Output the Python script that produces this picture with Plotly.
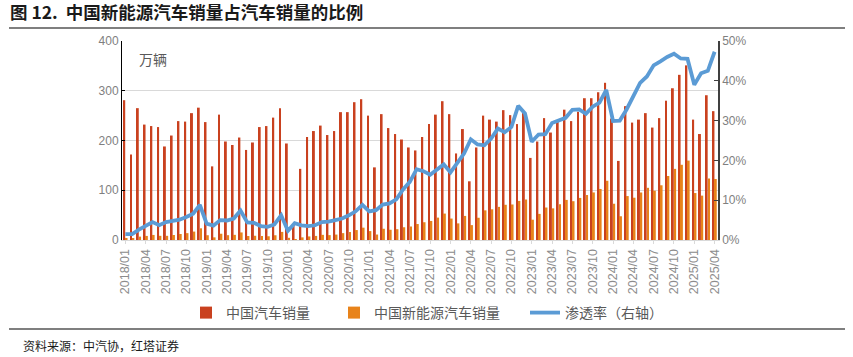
import plotly.graph_objects as go

months = [f"{y}/{m:02d}" for y in range(2018, 2026) for m in range(1, 13)][:88]

total_sales = [
    281, 172, 265, 232, 229, 227, 188, 210, 239, 238, 255, 266,
    237, 148, 252, 198, 191, 206, 181, 196, 227, 229, 246, 265,
    194, 31, 143, 207, 219, 230, 211, 219, 257, 257, 277, 283,
    250, 146, 253, 225, 213, 202, 186, 180, 207, 233, 252, 279,
    253, 174, 223, 118, 186, 250, 242, 238, 261, 251, 233, 256,
    165, 198, 245, 216, 238, 262, 239, 258, 285, 285, 297, 316,
    244, 159, 269, 236, 242, 255, 226, 245, 280, 305, 332, 351,
    242, 213, 291, 259,
]

nev_sales = [
    4.1, 2.5, 6.8, 8.2, 10.2, 8.4, 8.4, 10.1, 12.1, 13.8, 16.9, 23.5,
    9.6, 5.3, 12.6, 9.7, 10.4, 15.2, 8.0, 8.5, 8.0, 7.5, 9.5, 16.3,
    4.4, 1.3, 5.3, 7.2, 8.2, 10.4, 9.8, 10.9, 13.8, 16.0, 20.0, 24.8,
    17.9, 11.0, 22.6, 20.6, 21.7, 25.6, 27.1, 32.1, 35.7, 38.3, 45.0, 53.1,
    43.1, 33.4, 48.4, 29.9, 44.7, 59.6, 61.7, 66.6, 70.8, 71.4, 78.6, 81.4,
    40.8, 52.5, 65.3, 63.6, 71.7, 80.6, 78.0, 84.6, 90.4, 95.6, 102.6, 119.1,
    72.9, 47.7, 88.3, 85.0, 95.5, 104.9, 99.1, 110.0, 128.7, 143.0, 151.2, 159.6,
    94.4, 89.2, 123.7, 122.6,
]

penetration_pct = [
    1.5, 1.5, 2.6, 3.5, 4.5, 3.7, 4.5, 4.8, 5.1, 5.8, 6.6, 8.8,
    4.1, 3.6, 5.0, 4.9, 5.4, 7.4, 4.4, 4.3, 3.5, 3.3, 3.9, 6.2,
    2.3, 4.2, 3.7, 3.5, 3.7, 4.5, 4.6, 5.0, 5.4, 6.2, 7.2, 8.8,
    7.2, 7.5, 8.9, 9.2, 10.2, 12.7, 14.6, 17.8, 17.3, 16.4, 17.8, 19.0,
    17.0, 19.2, 21.7, 25.3, 24.0, 23.8, 25.5, 28.0, 27.1, 28.4, 33.7, 31.8,
    24.7, 26.5, 26.6, 29.4, 30.1, 30.7, 32.7, 32.8, 31.7, 33.5, 34.5, 37.7,
    29.9, 30.0, 32.8, 36.0, 39.5, 41.1, 43.9, 44.9, 46.0, 46.8, 45.6, 45.5,
    39.0, 41.9, 42.5, 47.3,
]

tick_labels = months[::3]

RED = "#C9411F"
ORANGE = "#E8831A"
BLUE = "#5B9BD5"
CJK = "Noto Sans CJK SC"

W, H = 853, 357
PL, PT, PW, PH = 122, 41, 596, 199  # plot area in pixels


def px(x):
    return (x - PL) / PW


def py(y):
    return (PT + PH - y) / PH


fig = go.Figure()
fig.add_trace(go.Bar(
    x=months, y=total_sales, name="中国汽车销量", legend="legend",
    marker=dict(color=RED, line=dict(width=0)),
))
fig.add_trace(go.Bar(
    x=months, y=nev_sales, name="中国新能源汽车销量", legend="legend2",
    marker=dict(color=ORANGE, line=dict(width=0)),
))
fig.add_trace(go.Scatter(
    x=months, y=[p / 100 for p in penetration_pct], name="渗透率（右轴）",
    legend="legend3",
    mode="lines", line=dict(color=BLUE, width=3.8), yaxis="y2",
))

legend_common = dict(
    orientation="h", xanchor="left", yanchor="middle", y=py(313),
    font=dict(family=CJK, size=14, color="#595959"),
    itemwidth=30, bgcolor="rgba(0,0,0,0)",
)

fig.update_layout(
    width=W, height=H,
    margin=dict(l=PL, r=W - (PL + PW), t=PT, b=H - (PT + PH), autoexpand=False),
    paper_bgcolor="white", plot_bgcolor="white",
    barmode="group", bargap=0.32, bargroupgap=0.15,
    font=dict(family=CJK, color="#595959", size=11),
    showlegend=True,
    legend=dict(x=px(186), **legend_common),
    legend2=dict(x=px(334), **legend_common),
    legend3=dict(x=px(525), **legend_common),
    xaxis=dict(
        type="category", range=[-0.5, 87.5],
        tickmode="array", tickvals=tick_labels, ticktext=tick_labels,
        tickangle=-90, tickfont=dict(family="Liberation Sans", size=12.5, color="#8C8C8C"),
        showgrid=False, showline=True, linecolor="#D9D9D9", linewidth=1,
        ticks="outside", ticklen=3, tickcolor="#D9D9D9",
        zeroline=False,
    ),
    yaxis=dict(
        range=[0, 400], dtick=100, showgrid=True, gridcolor="#D9D9D9", gridwidth=1,
        showline=True, linecolor="#000000", linewidth=1,
        ticks="inside", ticklen=3, tickcolor="#000000",
        tickfont=dict(family="Liberation Sans", size=12, color="#7F7F7F"),
        zeroline=False,
    ),
    yaxis2=dict(
        range=[0, 0.5], dtick=0.1, tickformat=".0%", overlaying="y", side="right",
        showgrid=False, showline=True, linecolor="#404040", linewidth=1.5,
        ticks="inside", ticklen=4, tickcolor="#404040",
        tickfont=dict(family="Liberation Sans", size=12, color="#7F7F7F"),
        zeroline=False,
    ),
)

fig.add_annotation(
    text="<b>图 12.  中国新能源汽车销量占汽车销量的比例</b>",
    xref="paper", yref="paper", x=px(8), y=py(12),
    xanchor="left", yanchor="middle", showarrow=False,
    font=dict(family=CJK, size=17.5, color="#1A1A1A"),
)
fig.add_annotation(
    text="万辆", xref="paper", yref="paper",
    x=px(137), y=py(59), xanchor="left", yanchor="middle",
    showarrow=False, font=dict(family=CJK, size=14, color="#595959"),
)
fig.add_annotation(
    text="资料来源：中汽协，红塔证券", xref="paper", yref="paper",
    x=px(21), y=py(345), xanchor="left", yanchor="middle",
    showarrow=False, font=dict(family=CJK, size=12, color="#1A1A1A"),
)
for yy in (28, 329):
    fig.add_shape(type="line", xref="paper", yref="paper",
                  x0=px(9), x1=px(845), y0=py(yy), y1=py(yy),
                  line=dict(color="#000000", width=1.2))

fig.write_html(
    "out.html",
    config={"displayModeBar": False},
    post_script="document.body.style.margin='0';document.body.style.overflow='hidden';",
)
